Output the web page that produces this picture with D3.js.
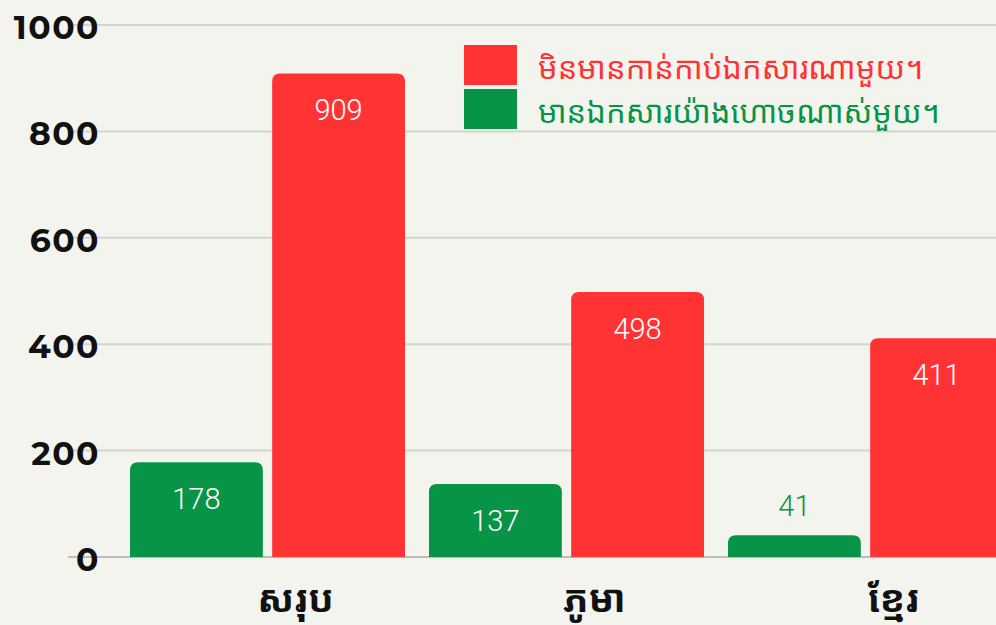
<!DOCTYPE html>
<html>
<head>
<meta charset="utf-8">
<script src="https://cdn.jsdelivr.net/npm/d3@7"></script>
<style>
  html, body { margin: 0; padding: 0; background: #f4f4ef; }
  svg { display: block; }
</style>
</head>
<body>
<svg id="chart" width="996" height="625"></svg>
<script>
const categories = ["សរុប", "ភូមា", "ខ្មែរ"];
const seriesKeys = ["has", "none"];
const seriesNames = ["មិនមានកាន់កាប់ឯកសារណាមួយ។", "មានឯកសារយ៉ាងហោចណាស់មួយ។"];
const hasValues = [178, 137, 41];
const noneValues = [909, 498, 411];
const yTicks = [0, 200, 400, 600, 800, 1000];

const colors = { has: "#079447", none: "#ff3333" };
const khmerFont = "'Noto Sans Khmer', 'Khmer OS', 'Khmer OS System', 'Noto Serif Khmer', 'DejaVu Sans', sans-serif";

const svg = d3.select("#chart");
const W = 996, H = 625;

svg.append("rect").attr("width", W).attr("height", H).attr("fill", "#f4f4ef");

const y = d3.scaleLinear().domain([0, 1000]).range([557, 25]);
const x0 = d3.scaleBand().domain(categories).range([118, 1015]).paddingInner(24 / 299).paddingOuter(12 / 299);
const x1 = d3.scaleBand().domain(seriesKeys).range([0, x0.bandwidth()]).paddingInner(9 / 137);

// gridlines
svg.append("g").selectAll("line").data(yTicks).join("line")
  .attr("x1", 68).attr("x2", W)
  .attr("y1", d => y(d)).attr("y2", d => y(d))
  .attr("stroke", d => d === 0 ? "#bdbdb7" : "#d4d4cf")
  .attr("stroke-width", 2);

// y tick labels
svg.append("g").selectAll("text").data(yTicks).join("text")
  .attr("x", 100).attr("y", d => y(d) + 2)
  .attr("text-anchor", "end")
  .attr("dominant-baseline", "central")
  .attr("font-family", "'Montserrat', 'DejaVu Sans', sans-serif")
  .attr("font-weight", "bold")
  .attr("font-size", 33)
  .attr("letter-spacing", 1.5)
  .attr("fill", "#111")
  .text(d => d);

const rows = categories.map((c, i) => ({ cat: c, has: hasValues[i], none: noneValues[i] }));

function topRounded(x, yTop, w, yBot, r) {
  r = Math.min(r, (yBot - yTop), w / 2);
  return `M${x},${yBot}V${yTop + r}Q${x},${yTop} ${x + r},${yTop}H${x + w - r}Q${x + w},${yTop} ${x + w},${yTop + r}V${yBot}Z`;
}

const groups = svg.append("g").selectAll("g").data(rows).join("g")
  .attr("transform", d => `translate(${x0(d.cat)},0)`);

const bars = groups.selectAll("g.bar").data(d => seriesKeys.map(k => ({ key: k, value: d[k] }))).join("g").attr("class", "bar");

bars.append("path")
  .attr("d", d => topRounded(x1(d.key), y(d.value), x1.bandwidth(), y(0), 8))
  .attr("fill", d => colors[d.key]);

bars.append("text")
  .attr("x", d => x1(d.key) + x1.bandwidth() / 2)
  .attr("y", d => (y(0) - y(d.value) > 60) ? y(d.value) + 37 : y(d.value) - 29)
  .attr("text-anchor", "middle")
  .attr("dominant-baseline", "central")
  .attr("font-family", "Roboto, sans-serif")
  .attr("font-weight", 300)
  .attr("font-size", 29)
  .attr("fill", d => (y(0) - y(d.value) > 60) ? "#ffffff" : colors[d.key])
  .text(d => d.value);

// category labels
svg.append("g").selectAll("text").data(categories).join("text")
  .attr("x", d => x0(d) + x0.bandwidth() / 2 + 28)
  .attr("y", 612)
  .attr("text-anchor", "middle")
  .attr("font-family", khmerFont)
  .attr("font-weight", "bold")
  .attr("font-size", 38)
  .attr("fill", "#111")
  .text(d => d);

// legend
const legendKeys = ["none", "has"];
const legend = svg.append("g").selectAll("g").data(legendKeys).join("g")
  .attr("transform", (d, i) => `translate(464,${45 + i * 44})`);
legend.append("rect").attr("width", 53).attr("height", 40).attr("fill", d => colors[d]);
legend.append("text")
  .attr("x", 74).attr("y", 22)
  .attr("dominant-baseline", "central")
  .attr("font-family", khmerFont)
  .attr("font-size", 31)
  .attr("fill", d => colors[d])
  .text((d, i) => seriesNames[i]);
</script>
</body>
</html>
